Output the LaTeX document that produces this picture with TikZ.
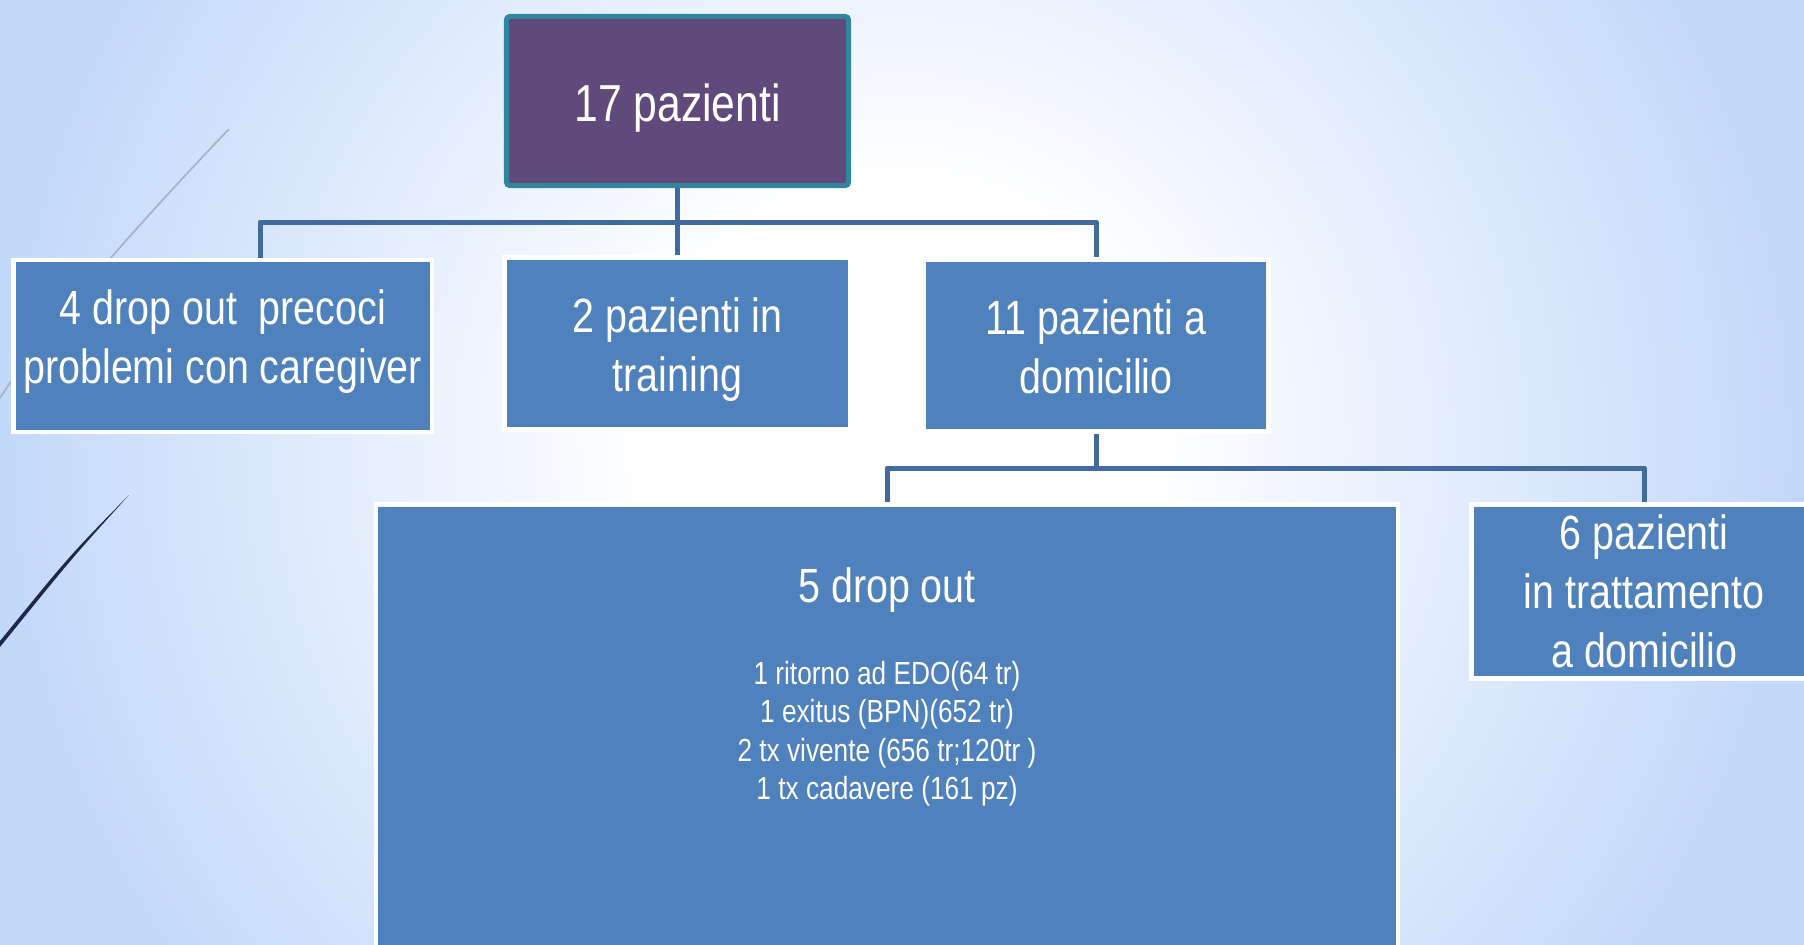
\documentclass[tikz,border=0pt]{standalone}
\usepackage{fontspec}
\setmainfont{Liberation Sans}[FakeStretch=0.82]
\usepackage{xcolor}

\definecolor{boxblue}{HTML}{4F81BD}
\definecolor{linkblue}{HTML}{416A9E}
\definecolor{topviolet}{HTML}{604A7B}
\definecolor{topteal}{HTML}{31859C}
\definecolor{skyblue}{RGB}{195,217,250}
\definecolor{slidenavy}{HTML}{1F2750}
\definecolor{slidegray}{HTML}{A7B3C9}

\pgfdeclareradialshading{slidebg}{\pgfpoint{0bp}{0bp}}{color(0bp)=(white); color(3.5bp)=(white); color(12.5bp)=(skyblue); color(50bp)=(skyblue)}

\begin{document}
\begin{tikzpicture}[x=0.01cm, y=-0.01cm,
    topbox/.style={draw=topteal, fill=topviolet, line width=0.05cm, rounded corners=1pt, text=white, minimum width=3.42cm, minimum height=1.69cm, font=\fontsize{14.8}{17}\selectfont},
    box/.style={draw=white, fill=boxblue, line width=0.045cm, text=white, align=center, inner sep=0pt, font=\fontsize{13.66}{16.8}\selectfont},
    link/.style={draw=linkblue, line width=0.05cm, line join=round}
]
    \useasboundingbox (0,0) rectangle (1804,944);
    \begin{scope}
        \clip (0,0) rectangle (1804,944);
        \shade[shading=slidebg] (900,440) circle (1800);
    \end{scope}
    % slide decoration
    \draw[slidegray, line width=0.5pt] (229,129) .. controls (140,222) and (40,335) .. (0,398);
    \fill[slidenavy] (129,495) .. controls (70,555) .. (0,641) -- (0,647) .. controls (72,558) .. (129,495) -- cycle;

    \node[topbox, text height=0.52cm, text depth=0.11cm] (pz17) at (677.5,101) {17 pazienti};
    \node[box, minimum width=4.18cm, minimum height=1.72cm, text height=0.846cm, text depth=0.10cm] (early) at (222.75,346) {4 drop out\ \ precoci\\problemi con caregiver};
    \node[box, minimum width=3.455cm, minimum height=1.715cm, text height=1.066cm, text depth=0.10cm] (train) at (677.5,343.5) {2 pazienti in\\training};
    \node[box, minimum width=3.445cm, minimum height=1.715cm, text height=0.964cm, text depth=0.01cm] (dom) at (1096,345.5) {11 pazienti a\\domicilio};
    \node[box, minimum width=10.215cm, minimum height=4.6cm] (drop5) at (887,734.75) {\parbox[c][4.6cm][t]{10cm}{\centering\vspace*{0.635cm}\fontsize{13.66}{16.8}\selectfont 5 drop out\par\vspace{0.425cm}\fontsize{9.1}{10.95}\selectfont 1 ritorno ad EDO(64 tr)\\1 exitus (BPN)(652 tr)\\2 tx vivente (656 tr;120tr )\\1 tx cadavere (161 pz)\par}};
    \node[box, minimum width=3.45cm, minimum height=1.735cm] (home) at (1644.25,591.5) {6 pazienti\\in trattamento\\a domicilio};

    \coordinate (forkA) at (260,222);
    \coordinate (forkC) at (1096,222);
    \coordinate (forkD) at (887,468);
    \coordinate (forkE) at (1644.25,468);

    \draw[link] (pz17.south) -- (train.north);
    \draw[link] (early.north -| forkA) -- (forkA) -- (forkC) -- (dom.north);
    \draw[link] (dom.south) -- (dom.south |- forkD);
    \draw[link] (drop5.north) -- (forkD) -- (forkE) -- (home.north);
\end{tikzpicture}
\end{document}
